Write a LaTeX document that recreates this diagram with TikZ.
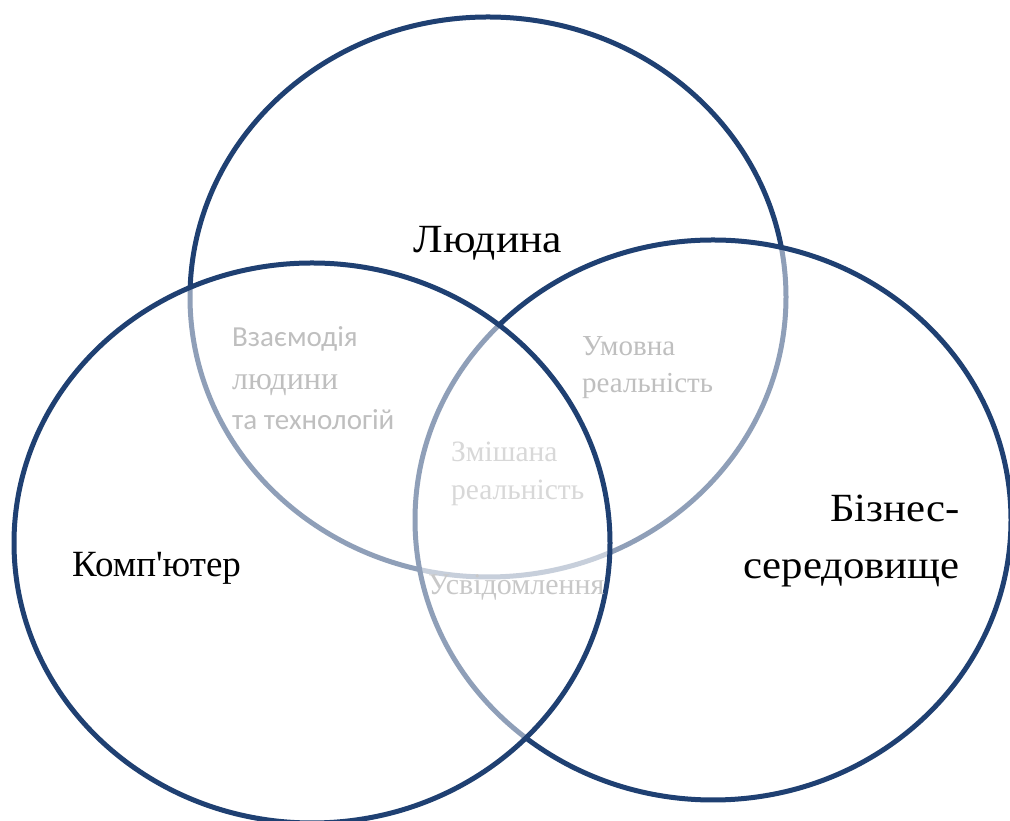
\documentclass[tikz,border=0pt]{standalone}
\usepackage{fontspec}
\setmainfont{Liberation Serif}
\newfontfamily\plainserif{Liberation Serif}
\newfontfamily\labelsans{Carlito}
\usetikzlibrary{shapes.geometric}
\definecolor{ringblue}{RGB}{31,64,114}
\definecolor{softgray}{RGB}{191,191,191}
\definecolor{palegray}{RGB}{216,216,216}
\definecolor{midgray}{RGB}{200,200,200}
\tikzset{
  ring/.style={ellipse, draw=ringblue, line width=5pt, fill=white, fill opacity=0.5,
               inner sep=0pt, outer sep=0pt, minimum width=596pt, minimum height=560pt},
  mainlabel/.style={text=black, inner sep=0pt},
  sublabel/.style={inner sep=0pt, anchor=base west},
}
\begin{document}
\begin{tikzpicture}[x=1pt,y=1pt]
  \useasboundingbox (0,0) rectangle (1010,821);
  % the three sets, drawn top, right, left so that each lighter fill veils the earlier rims
  \node[ring] (human) at (488,524) {};
  \node[ring] (business) at (713,301) {};
  \node[ring] (computer) at (312,278) {};

  % set names
  \node[mainlabel, anchor=base, xscale=1.09, font=\fontsize{40}{40}\selectfont] (humanlbl) at (488,568) {Людина};
  \node[mainlabel, anchor=base west, font=\plainserif\fontsize{37}{37}\selectfont] (complbl) at (72,244) {Комп'ютер};
  \node[mainlabel, anchor=base east, align=right, xscale=1.07, font=\fontsize{40}{57}\selectfont] (busylbl) at (960,242) {Бізнес-\\середовище};

  % overlap names
  \node[sublabel, text=softgray, font=\labelsans\fontsize{29}{29}\selectfont] (inter1) at (232,474) {Взаємодія};
  \node[sublabel, text=softgray, font=\fontsize{32}{32}\selectfont] (inter2) at (232,431) {людини};
  \node[sublabel, text=softgray, font=\labelsans\fontsize{29}{29}\selectfont] (inter3) at (232,391) {та технологій};

  \node[sublabel, text=softgray, font=\fontsize{29}{29}\selectfont] (cond1) at (582,465) {Умовна};
  \node[sublabel, text=softgray, font=\fontsize{29}{29}\selectfont] (cond2) at (582,428) {реальність};

  \node[sublabel, text=palegray, font=\fontsize{29.5}{29.5}\selectfont] (mix1) at (451,359) {Змішана};
  \node[sublabel, text=palegray, font=\fontsize{29.5}{29.5}\selectfont] (mix2) at (451,321) {реальність};

  \node[sublabel, text=midgray, font=\fontsize{30}{30}\selectfont] (aware) at (428,226) {Усвідомлення};
\end{tikzpicture}
\end{document}
